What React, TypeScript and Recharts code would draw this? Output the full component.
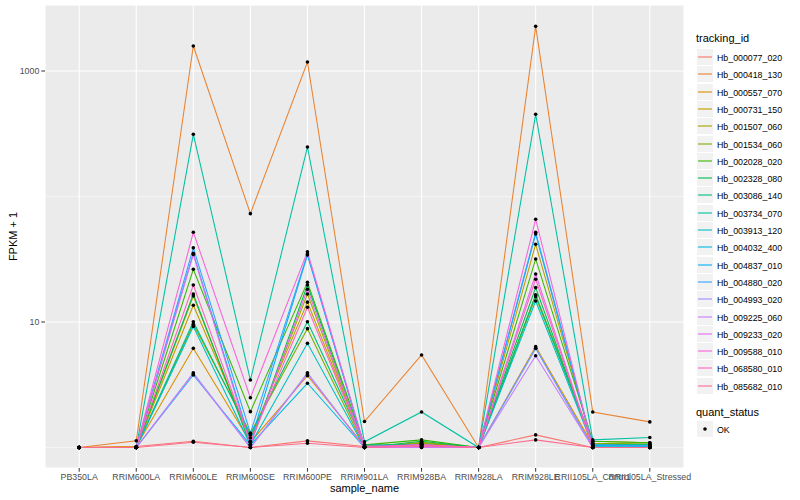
import React from 'react';
import { LineChart, Line, XAxis, YAxis, CartesianGrid, ReferenceLine } from 'recharts';

const categories = [
  'PB350LA', 'RRIM600LA', 'RRIM600LE', 'RRIM600SE', 'RRIM600PE', 'RRIM901LA',
  'RRIM928BA', 'RRIM928LA', 'RRIM928LE', 'RRII105LA_Control', 'RRII105LA_Stressed',
];

const hb_000077_020 = [1.0, 1.02, 1.12, 1.0, 1.13, 1.02, 1.05, 1.0, 1.26, 1.0, 1.0];
const hb_000418_130 = [1.0, 1.13, 1582, 73, 1180, 1.61, 5.46, 1.0, 2270, 1.92, 1.6];
const hb_000557_070 = [1.0, 1.02, 6.17, 1.1, 3.73, 1.03, 1.06, 1.0, 6.36, 1.05, 1.03];
const hb_000731_150 = [1.0, 1.0, 13.6, 1.19, 14.4, 1.02, 1.08, 1.0, 41.6, 1.08, 1.06];
const hb_001507_060 = [1.0, 1.0, 16.1, 1.11, 16.7, 1.0, 1.1, 1.0, 16.4, 1.12, 1.09];
const hb_001534_060 = [1.0, 1.0, 9.6, 1.3, 8.85, 1.0, 1.08, 1.0, 15.9, 1.08, 1.06];
const hb_002028_020 = [1.0, 1.0, 26.3, 1.93, 20.7, 1.05, 1.15, 1.0, 31.8, 1.12, 1.09];
const hb_002328_080 = [1.0, 1.0, 16.7, 1.05, 19.7, 1.0, 1.12, 1.0, 18.8, 1.03, 1.03];
const hb_003086_140 = [1.0, 1.0, 10.05, 1.26, 10.05, 1.05, 1.05, 1.0, 16.4, 1.05, 1.06];
const hb_003734_070 = [1.0, 1.0, 313, 3.45, 248, 1.11, 1.92, 1.0, 452, 1.15, 1.2];
const hb_003913_120 = [1.0, 1.0, 9.2, 1.05, 6.76, 1.0, 1.03, 1.0, 14.7, 1.03, 1.03];
const hb_004032_400 = [1.0, 1.0, 3.78, 1.05, 3.25, 1.0, 1.02, 1.0, 6.17, 1.0, 1.0];
const hb_004837_010 = [1.0, 1.0, 35.3, 1.11, 34.2, 1.0, 1.03, 1.0, 50.2, 1.03, 1.03];
const hb_004880_020 = [1.0, 1.0, 39, 1.3, 34.9, 1.02, 1.05, 1.0, 51.9, 1.05, 1.03];
const hb_004993_020 = [1.0, 1.0, 3.94, 1.0, 3.94, 1.0, 1.0, 1.0, 6.17, 1.0, 1.0];
const hb_009225_060 = [1.0, 1.0, 3.85, 1.0, 3.85, 1.0, 1.0, 1.0, 5.39, 1.0, 1.0];
const hb_009233_020 = [1.0, 1.0, 34.5, 1.05, 18.2, 1.0, 1.02, 1.0, 24.1, 1.0, 1.0];
const hb_009588_010 = [1.0, 1.0, 51.9, 2.49, 36.3, 1.02, 1.05, 1.0, 65.8, 1.0, 1.0];
const hb_068580_010 = [1.0, 1.0, 19.7, 1.11, 13.1, 1.0, 1.05, 1.0, 21.9, 1.0, 1.0];
const hb_085682_010 = [1.0, 1.0, 1.1, 1.0, 1.08, 1.0, 1.03, 1.0, 1.15, 1.0, 1.0];

const seriesNames = [
  'Hb_000077_020', 'Hb_000418_130', 'Hb_000557_070', 'Hb_000731_150', 'Hb_001507_060',
  'Hb_001534_060', 'Hb_002028_020', 'Hb_002328_080', 'Hb_003086_140', 'Hb_003734_070',
  'Hb_003913_120', 'Hb_004032_400', 'Hb_004837_010', 'Hb_004880_020', 'Hb_004993_020',
  'Hb_009225_060', 'Hb_009233_020', 'Hb_009588_010', 'Hb_068580_010', 'Hb_085682_010',
];

const seriesValues = [
  hb_000077_020, hb_000418_130, hb_000557_070, hb_000731_150, hb_001507_060,
  hb_001534_060, hb_002028_020, hb_002328_080, hb_003086_140, hb_003734_070,
  hb_003913_120, hb_004032_400, hb_004837_010, hb_004880_020, hb_004993_020,
  hb_009225_060, hb_009233_020, hb_009588_010, hb_068580_010, hb_085682_010,
];

const seriesColors = [
  '#F8766D', '#EA8331', '#D89000', '#C09B00', '#A3A500', '#7CAE00', '#39B600', '#00BB4E',
  '#00BF7D', '#00C1A3', '#00BFC4', '#00BAE0', '#00B0F6', '#35A2FF', '#9590FF', '#C77CFF',
  '#E76BF3', '#FA62DB', '#FF62BC', '#FF6C91',
];

const yMajorTicks = [10, 1000];
const yMinorTicks = [1, 100];
const yDomain = [0.6866, 3357];
const quantStatus = ['OK'];

const data = categories.map((c, i) => {
  const row: Record<string, any> = { sample_name: c };
  seriesNames.forEach((n, k) => {
    row[n] = seriesValues[k][i];
  });
  return row;
});

const FONT = '"Liberation Sans", Arial, Helvetica, sans-serif';

const LEG_X = 696;
const KEY = 17;

const Legend = () => {
  const firstTop = 49;
  const qsTop = 421;
  return (
    <svg
      width={104}
      height={500}
      style={{ position: 'absolute', left: LEG_X, top: 0, overflow: 'visible' }}
      fontFamily={FONT}
    >
      <text x={0} y={42} fontSize={11} fill="#000">tracking_id</text>
      {seriesNames.map((n, k) => {
        const top = firstTop + Math.round(k * 17.3);
        return (
          <g key={n}>
            <rect x={1} y={top} width={KEY - 1} height={KEY - 1} fill="#F2F2F2" />
            <line x1={2} x2={KEY - 1} y1={top + 8} y2={top + 8} stroke={seriesColors[k]} strokeWidth={1.1} />
            <text x={21} y={top + 11.5} fontSize={8.8} fill="#000">{n}</text>
          </g>
        );
      })}
      <text x={0} y={416} fontSize={11} fill="#000">quant_status</text>
      {quantStatus.map((q, k) => {
        const top = qsTop + Math.round(k * 17.3);
        return (
          <g key={q}>
            <rect x={1} y={top} width={KEY - 1} height={KEY - 1} fill="#F2F2F2" />
            <circle cx={9} cy={top + 8} r={1.8} fill="#000" />
            <text x={21} y={top + 11.5} fontSize={8.8} fill="#000">{q}</text>
          </g>
        );
      })}
    </svg>
  );
};

export default function App() {
  return (
    <div style={{ position: 'absolute', left: 0, top: 0, width: 800, height: 500, background: '#FFFFFF', fontFamily: FONT }}>
      <LineChart width={800} height={500} data={data} margin={{ top: 5, right: 116, bottom: 2, left: 5 }}>
        <CartesianGrid fill="#EBEBEB" stroke="#FFFFFF" strokeWidth={1.07} />
        {yMinorTicks.map((v) => (
          <ReferenceLine key={v} y={v} stroke="#FFFFFF" strokeWidth={0.53} />
        ))}
        <XAxis
          dataKey="sample_name"
          type="category"
          scale="point"
          padding={{ left: 34.2, right: 34.2 }}
          interval={0}
          axisLine={false}
          tickLine={{ stroke: '#333333', strokeWidth: 1 }}
          tickSize={3.7}
          tickMargin={2}
          tick={{ fontSize: 8.8, fill: '#4D4D4D', fontFamily: FONT }}
          height={30}
          label={(props: any) => {
            const vb = props.viewBox || { x: 45, width: 639 };
            return (
              <text x={vb.x + vb.width / 2} y={492} textAnchor="middle" fontSize={11} fill="#000" fontFamily={FONT}>
                sample_name
              </text>
            );
          }}
        />
        <YAxis
          type="number"
          scale="log"
          domain={yDomain}
          allowDataOverflow
          ticks={yMajorTicks}
          interval={0}
          width={40}
          axisLine={false}
          tickLine={{ stroke: '#333333', strokeWidth: 1 }}
          tickSize={3.7}
          tickMargin={2}
          tick={{ fontSize: 8.8, fill: '#4D4D4D', fontFamily: FONT }}
          label={(props: any) => {
            const vb = props.viewBox || { y: 5, height: 463 };
            const cy = vb.y + vb.height / 2;
            return (
              <text x={17} y={cy} transform={`rotate(-90, 17, ${cy})`} textAnchor="middle" fontSize={11} fill="#000" fontFamily={FONT}>
                FPKM + 1
              </text>
            );
          }}
        />
        {seriesNames.map((n, k) => (
          <Line
            key={'l' + n}
            dataKey={n}
            type="linear"
            stroke={seriesColors[k]}
            strokeWidth={1.07}
            dot={false}
            activeDot={false}
            isAnimationActive={false}
          />
        ))}
        {seriesNames.map((n) => (
          <Line
            key={'p' + n}
            dataKey={n}
            type="linear"
            stroke="none"
            strokeWidth={0}
            dot={{ r: 1.8, fill: '#000000', stroke: 'none' }}
            activeDot={false}
            legendType="none"
            isAnimationActive={false}
          />
        ))}
      </LineChart>
      <Legend />
    </div>
  );
}
